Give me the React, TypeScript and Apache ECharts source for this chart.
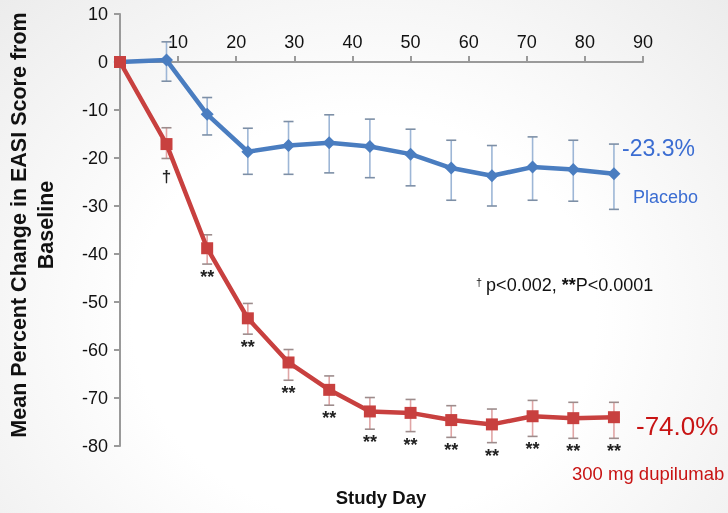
import React, { useEffect, useRef } from "react";
import * as echarts from "echarts";

const days = [0, 8, 15, 22, 29, 36, 43, 50, 57, 64, 71, 78, 85];
const placeboMean = [0, 0.4, -10.9, -18.7, -17.4, -16.8, -17.6, -19.2, -22.1, -23.7, -21.9, -22.4, -23.3];
const placeboLow = [null, -4.0, -15.2, -23.4, -23.4, -23.1, -24.1, -25.8, -28.8, -30.0, -28.8, -29.0, -30.7];
const placeboHigh = [null, 4.2, -7.4, -13.8, -12.4, -11.0, -11.9, -14.0, -16.3, -17.4, -15.6, -16.3, -17.1];
const dupiMean = [0, -17.1, -38.8, -53.4, -62.6, -68.3, -72.8, -73.1, -74.6, -75.5, -73.8, -74.2, -74.0];
const dupiLow = [null, -20.1, -42.1, -56.7, -66.3, -71.5, -76.5, -77.0, -78.2, -79.3, -78.0, -78.4, -78.4];
const dupiHigh = [null, -13.7, -36.0, -50.3, -59.9, -65.4, -69.9, -70.3, -71.6, -72.3, -70.5, -70.9, -70.9];
const dupiMarks = ["", "†", "**", "**", "**", "**", "**", "**", "**", "**", "**", "**", "**"];

const xTicks = [0, 10, 20, 30, 40, 50, 60, 70, 80, 90];
const yTicks = [-80, -70, -60, -50, -40, -30, -20, -10, 0, 10];

const placeboFinal = "-23.3%";
const dupiFinal = "-74.0%";
const placeboName = "Placebo";
const dupiName = "300 mg dupilumab";
const footnote = { dagger: "†", p1: "p<0.002, ", stars: "**", p2: "P<0.0001" };
const yTitle = ["Mean Percent Change in EASI Score from", "Baseline"];
const xTitle = "Study Day";

const FONT = "'Liberation Sans', Arial, sans-serif";

function errData(low: (number | null)[], high: (number | null)[]) {
  const out: number[][] = [];
  days.forEach((d, i) => {
    if (low[i] !== null && high[i] !== null) out.push([d, low[i] as number, high[i] as number, i]);
  });
  return out;
}

function makeErrRender(stem: string, cap: string, marks?: string[]) {
  return (params: any, api: any) => {
    const x = api.value(0);
    const lo = api.value(1);
    const hi = api.value(2);
    const idx = api.value(3);
    const pLo = api.coord([x, lo]);
    const pHi = api.coord([x, hi]);
    const hw = 5;
    const children: any[] = [
      { type: "line", shape: { x1: pLo[0], y1: pLo[1], x2: pHi[0], y2: pHi[1] }, style: { stroke: stem, lineWidth: 1.6 } },
      { type: "line", shape: { x1: pLo[0] - hw, y1: pLo[1], x2: pLo[0] + hw, y2: pLo[1] }, style: { stroke: cap, lineWidth: 1.6 } },
      { type: "line", shape: { x1: pHi[0] - hw, y1: pHi[1], x2: pHi[0] + hw, y2: pHi[1] }, style: { stroke: cap, lineWidth: 1.6 } },
    ];
    if (marks && marks[idx]) {
      const m = marks[idx];
      const isDagger = m === "†";
      children.push({
        type: "text",
        x: pLo[0],
        y: pLo[1] + (isDagger ? 18 : 13),
        style: {
          text: m,
          fill: "#222",
          font: isDagger ? `bold 17px ${FONT}` : `bold 18px ${FONT}`,
          textAlign: "center",
          textVerticalAlign: "middle",
        },
      });
    }
    return { type: "group", children };
  };
}

export default function App() {
  const ref = useRef<HTMLDivElement>(null);
  useEffect(() => {
    if (!ref.current) return;
    const chart = echarts.init(ref.current, undefined, { renderer: "svg" });
    const axisColor = "#9a9a9a";
    chart.setOption({
      animation: false,
      backgroundColor: "transparent",
      grid: { left: 120, right: 85, top: 14, bottom: 67, containLabel: false, outerBoundsMode: "none" },
      xAxis: [
        {
          type: "value",
          min: xTicks[0],
          max: xTicks[xTicks.length - 1],
          interval: 10,
          position: "top",
          axisLine: { onZero: true, lineStyle: { color: axisColor, width: 2 } },
          axisTick: { show: true, length: 6, lineStyle: { color: axisColor, width: 2 } },
          axisLabel: { show: false },
          splitLine: { show: false },
        },
        {
          type: "value",
          min: xTicks[0],
          max: xTicks[xTicks.length - 1],
          interval: 10,
          position: "top",
          axisLine: { show: false, onZero: false },
          axisTick: { show: false },
          axisLabel: {
            showMinLabel: false,
            margin: -37,
            color: "#111",
            fontSize: 18,
            fontFamily: FONT,
          },
          splitLine: { show: false },
        },
      ],
      yAxis: {
        type: "value",
        min: yTicks[0],
        max: yTicks[yTicks.length - 1],
        interval: 10,
        axisLine: { show: true, onZero: false, lineStyle: { color: axisColor, width: 2 } },
        axisTick: { show: true, length: 6, lineStyle: { color: axisColor, width: 2 } },
        axisLabel: { margin: 12, color: "#111", fontSize: 18, fontFamily: FONT },
        splitLine: { show: false },
      },
      series: [
        {
          type: "custom",
          name: "placeboErr",
          data: errData(placeboLow, placeboHigh),
          renderItem: makeErrRender("#9db6d6", "#7d8fa6"),
          z: 1,
          silent: true,
        },
        {
          type: "custom",
          name: "dupiErr",
          data: errData(dupiLow, dupiHigh),
          renderItem: makeErrRender("#e0a5a5", "#9d8c8c", dupiMarks),
          z: 1,
          silent: true,
        },
        {
          type: "line",
          name: placeboName,
          data: days.map((d, i) => [d, placeboMean[i]]),
          symbol: "diamond",
          symbolSize: 13,
          lineStyle: { color: "#4a7dc0", width: 4.5 },
          itemStyle: { color: "#4a7dc0" },
          z: 3,
        },
        {
          type: "line",
          name: dupiName,
          data: days.map((d, i) => [d, dupiMean[i]]),
          symbol: "rect",
          symbolSize: 12,
          lineStyle: { color: "#c8403f", width: 4.5 },
          itemStyle: { color: "#c8403f" },
          z: 4,
        },
      ],
      graphic: [
        {
          type: "text",
          x: 622,
          y: 148,
          style: { text: placeboFinal, fill: "#3b6dd2", font: `23px ${FONT}`, textVerticalAlign: "middle" },
        },
        {
          type: "text",
          x: 633,
          y: 197,
          style: { text: placeboName, fill: "#3b6dd2", font: `18px ${FONT}`, textVerticalAlign: "middle" },
        },
        {
          type: "text",
          x: 636,
          y: 426,
          style: { text: dupiFinal, fill: "#c81414", font: `26px ${FONT}`, textVerticalAlign: "middle" },
        },
        {
          type: "text",
          x: 572,
          y: 473,
          style: { text: dupiName, fill: "#c81414", font: `18.5px ${FONT}`, textVerticalAlign: "middle" },
        },
        {
          type: "text",
          x: 476,
          y: 285,
          style: {
            text: `{sup|${footnote.dagger}}{n|${footnote.p1}}{b|${footnote.stars}}{n|${footnote.p2}}`,
            textVerticalAlign: "middle",
            rich: {
              sup: { fontSize: 11, fontFamily: FONT, fill: "#111", verticalAlign: "top", padding: [0, 4, 0, 0] },
              n: { fontSize: 18, fontFamily: FONT, fill: "#111" },
              b: { fontSize: 18, fontFamily: FONT, fontWeight: "bold", fill: "#111" },
            },
          },
        },
        {
          type: "text",
          x: 381,
          y: 497,
          style: {
            text: xTitle,
            fill: "#111",
            font: `bold 18.5px ${FONT}`,
            textAlign: "center",
            textVerticalAlign: "middle",
          },
        },
        {
          type: "text",
          x: 32,
          y: 225,
          rotation: Math.PI / 2,
          style: {
            text: yTitle.join("\n"),
            fill: "#111",
            font: `bold 21.5px ${FONT}`,
            lineHeight: 27,
            textAlign: "center",
            textVerticalAlign: "middle",
          },
        },
      ],
    });
    return () => chart.dispose();
  }, []);
  return (
    <div
      ref={ref}
      style={{
        position: "fixed",
        left: 0,
        top: 0,
        width: 728,
        height: 513,
        background: "radial-gradient(ellipse at 50% 62%, #ffffff 45%, #ececec 100%)",
      }}
    />
  );
}
